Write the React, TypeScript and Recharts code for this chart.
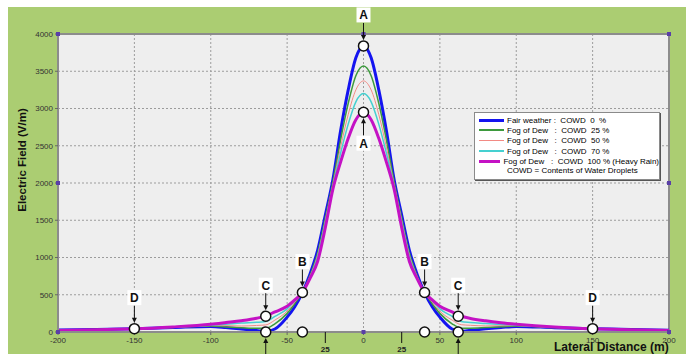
import React from "react";
import {
  LineChart,
  Line,
  XAxis,
  YAxis,
  CartesianGrid,
  ReferenceDot,
  ReferenceArea,
} from "recharts";

// lateral distance (m)
const distance = [
  -200, -175, -150, -125, -100, -90, -80, -70, -64, -58, -50, -45, -40, -35, -30, -25, -20, -15, -10, -5,
  0, 5, 10, 15, 20, 25, 30, 35, 40, 45, 50, 58, 64, 70, 80, 90, 100, 125, 150, 175, 200,
];

// electric field (V/m) per COWD level
const cowd0 = [
  25, 35, 45, 60, 75, 60, 40, 20, 8, 40, 200, 340, 530, 780, 1100, 1570, 2050, 2700, 3250, 3680,
  3840, 3680, 3250, 2700, 2050, 1570, 1100, 780, 530, 340, 200, 40, 10, 22, 42, 60, 75, 58, 45, 35, 25,
];
const cowd25 = [
  24, 33, 45, 62, 80, 68, 58, 50, 50, 110, 250, 380, 530, 760, 1060, 1530, 2020, 2580, 3070, 3440,
  3570, 3440, 3070, 2580, 2020, 1530, 1060, 760, 530, 380, 250, 110, 52, 52, 60, 70, 80, 60, 45, 33, 24,
];
const cowd50 = [
  22, 32, 44, 63, 85, 85, 80, 88, 95, 160, 280, 400, 530, 750, 1040, 1500, 1990, 2480, 2920, 3250,
  3370, 3250, 2920, 2480, 1990, 1500, 1040, 750, 530, 400, 280, 160, 98, 90, 82, 84, 85, 62, 44, 32, 22,
];
const cowd70 = [
  21, 31, 43, 64, 92, 105, 120, 130, 140, 210, 310, 420, 530, 735, 1010, 1470, 1960, 2400, 2790, 3090,
  3200, 3090, 2790, 2400, 1960, 1470, 1010, 735, 530, 420, 310, 210, 142, 128, 115, 102, 92, 63, 43, 31, 21,
];
const cowd100 = [
  20, 30, 42, 68, 105, 128, 152, 185, 215, 270, 345, 430, 530, 720, 950, 1400, 1920, 2280, 2600, 2850,
  2950, 2850, 2600, 2280, 1920, 1400, 950, 720, 530, 430, 345, 270, 212, 182, 150, 125, 105, 66, 42, 30, 20,
];

const xTicks = [-200, -150, -100, -50, 0, 50, 100, 150, 200];
const yTicks = [0, 500, 1000, 1500, 2000, 2500, 3000, 3500, 4000];

const series = [
  { key: "cowd0", name: "Fair weather :  COWD  0  %", color: "#1414f0", width: 3, legendWidth: 3 },
  { key: "cowd25", name: "Fog of Dew   :  COWD  25 %", color: "#3d9a3d", width: 1.5, legendWidth: 2 },
  { key: "cowd50", name: "Fog of Dew   :  COWD  50 %", color: "#f28a84", width: 1, legendWidth: 1.5 },
  { key: "cowd70", name: "Fog of Dew   :  COWD  70 %", color: "#45d0d0", width: 1.5, legendWidth: 2 },
  { key: "cowd100", name: "Fog of Dew   :  COWD  100 % (Heavy Rain)", color: "#c412c4", width: 3, legendWidth: 3 },
];

const annotations = [
  { x: 0, y: 3840, label: "A", side: "above" },
  { x: 0, y: 2950, label: "A", side: "below" },
  { x: -40, y: 530, label: "B", side: "above" },
  { x: 40, y: 530, label: "B", side: "above" },
  { x: -64, y: 212, label: "C", side: "above" },
  { x: 62, y: 212, label: "C", side: "above" },
  { x: -150, y: 45, label: "D", side: "above" },
  { x: 150, y: 45, label: "D", side: "above" },
  { x: -64, y: 0, label: "", side: "under" },
  { x: 62, y: 0, label: "", side: "under" },
  { x: -40, y: 0, label: "", side: "none" },
  { x: 40, y: 0, label: "", side: "none" },
];

const extraTicks = [-25, 25];

const cornerMarks = [
  [-200, 4000], [-200, 2000], [-200, 0], [200, 4000], [200, 2000], [200, 0], [0, 0], [0, 4000],
];

const data = distance.map((d, i) => ({
  d,
  cowd0: cowd0[i],
  cowd25: cowd25[i],
  cowd50: cowd50[i],
  cowd70: cowd70[i],
  cowd100: cowd100[i],
}));

function Marker({ cx, cy, label, side }: any) {
  if (cx == null || cy == null) return null;
  const gap = 31;
  const ly = side === "below" ? cy + gap : cy - gap;
  return (
    <g>
      {side === "above" && (
        <>
          <line x1={cx} y1={ly + 8} x2={cx} y2={cy - 9} stroke="#111" strokeWidth={1} />
          <polygon points={`${cx - 2.5},${cy - 11} ${cx + 2.5},${cy - 11} ${cx},${cy - 6}`} fill="#111" />
        </>
      )}
      {side === "below" && (
        <>
          <line x1={cx} y1={cy + 9} x2={cx} y2={ly - 8} stroke="#111" strokeWidth={1} />
          <polygon points={`${cx - 2.5},${cy + 11} ${cx + 2.5},${cy + 11} ${cx},${cy + 6}`} fill="#111" />
        </>
      )}
      {side === "under" && (
        <>
          <line x1={cx} y1={cy + 9} x2={cx} y2={cy + 30} stroke="#111" strokeWidth={1} />
          <polygon points={`${cx - 2.5},${cy + 11} ${cx + 2.5},${cy + 11} ${cx},${cy + 6}`} fill="#111" />
        </>
      )}
      {label && (
        <>
          <rect x={cx - 7} y={ly - 7.5} width={14} height={15} fill="#fff" />
          <text x={cx} y={ly + 4.5} textAnchor="middle" fontSize={12} fontWeight="bold" fill="#111"
            fontFamily="Liberation Sans, Arial, sans-serif">
            {label}
          </text>
        </>
      )}
      <circle cx={cx} cy={cy} r={5} fill="#fff" stroke="#111" strokeWidth={1.5} />
    </g>
  );
}

function ExtraTick({ cx, cy }: any) {
  if (cx == null || cy == null) return null;
  return (
    <g>
      <line x1={cx} y1={cy} x2={cx} y2={cy + 11} stroke="#111" strokeWidth={1} />
      <text x={cx} y={cy + 20} textAnchor="middle" fontSize={8} fontWeight="bold" fill="#222"
        fontFamily="Liberation Sans, Arial, sans-serif">
        25
      </text>
    </g>
  );
}

function CornerMark({ cx, cy }: any) {
  if (cx == null || cy == null) return null;
  return <rect x={cx - 2} y={cy - 2} width={4} height={4} fill="#5a3fa8" />;
}

function LegendBox() {
  return (
    <div
      style={{
        position: "absolute",
        left: 466,
        top: 105,
        width: 186,
        height: 68,
        background: "#fff",
        border: "1px solid #8a8a8a",
        boxShadow: "1px 1px 0 #555",
        fontFamily: "Liberation Sans, Arial, sans-serif",
        fontSize: 8,
        color: "#000",
        padding: "2px 0 0 4px",
        boxSizing: "border-box",
      }}
    >
      {series.map((s) => (
        <div key={s.key} style={{ display: "flex", alignItems: "center", height: 10.3 }}>
          <div style={{ width: 25, height: s.legendWidth, background: s.color, marginRight: 3 }} />
          <span style={{ whiteSpace: "pre" }}>{s.name}</span>
        </div>
      ))}
      <div style={{ paddingLeft: 28, height: 10, lineHeight: "10px" }}>COWD = Contents of Water Droplets</div>
    </div>
  );
}

export default function App() {
  const tickStyle = { fontSize: 8, fill: "#333", fontFamily: "Liberation Sans Narrow, Liberation Sans, Arial, sans-serif" };
  return (
    <div style={{ position: "fixed", left: 8, top: 7, width: 678, height: 347, background: "#abcd72" }}>
      <LineChart width={678} height={347} data={data} margin={{ top: 27, right: 17, bottom: 0, left: 0 }}>
        <CartesianGrid stroke="#9c9c9c" strokeDasharray="2 2" fill="#eeeeee" fillOpacity={1} />
        <XAxis
          dataKey="d"
          type="number"
          domain={[-200, 200]}
          ticks={xTicks}
          height={22}
          tickSize={3}
          tick={tickStyle}
          axisLine={{ stroke: "#8c8c8c", strokeWidth: 2 }}
          tickLine={{ stroke: "#666" }}
        />
        <YAxis
          type="number"
          domain={[0, 4000]}
          ticks={yTicks}
          width={50}
          tickSize={3}
          tick={tickStyle}
          axisLine={{ stroke: "#8c8c8c", strokeWidth: 2 }}
          tickLine={{ stroke: "#666" }}
        />
        <ReferenceArea x1={-200} x2={200} y1={0} y2={4000} fill="none" fillOpacity={0}
          stroke="#8c8c8c" strokeWidth={2} ifOverflow="visible" />
        {series.map((s) => (
          <Line
            key={s.key}
            dataKey={s.key}
            name={s.name}
            type="monotone"
            stroke={s.color}
            strokeWidth={s.width}
            dot={false}
            isAnimationActive={false}
          />
        ))}
        {cornerMarks.map(([x, y], i) => (
          <ReferenceDot key={"c" + i} x={x} y={y} r={2} ifOverflow="visible" shape={(p: any) => <CornerMark cx={p.cx} cy={p.cy} />} />
        ))}
        {extraTicks.map((x) => (
          <ReferenceDot key={"t" + x} x={x} y={0} r={1} ifOverflow="visible" shape={(p: any) => <ExtraTick cx={p.cx} cy={p.cy} />} />
        ))}
        {annotations.map((a, i) => (
          <ReferenceDot
            key={"a" + i}
            x={a.x}
            y={a.y}
            r={5}
            ifOverflow="visible"
            shape={(p: any) => <Marker cx={p.cx} cy={p.cy} label={a.label} side={a.side} />}
          />
        ))}
      </LineChart>
      <div
        style={{
          position: "absolute",
          left: 14,
          top: 153,
          transform: "translate(-50%, -50%) rotate(-90deg)",
          whiteSpace: "nowrap",
          fontFamily: "Liberation Sans, Arial, sans-serif",
          fontWeight: "bold",
          fontSize: 11.5,
          color: "#111",
        }}
      >
        Electric Field (V/m)
      </div>
      <div
        style={{
          position: "absolute",
          left: 546,
          top: 333,
          lineHeight: "14px",
          whiteSpace: "nowrap",
          fontFamily: "Liberation Sans, Arial, sans-serif",
          fontWeight: "bold",
          fontSize: 12,
          color: "#111",
        }}
      >
        Lateral Distance (m)
      </div>
      <LegendBox />
    </div>
  );
}
